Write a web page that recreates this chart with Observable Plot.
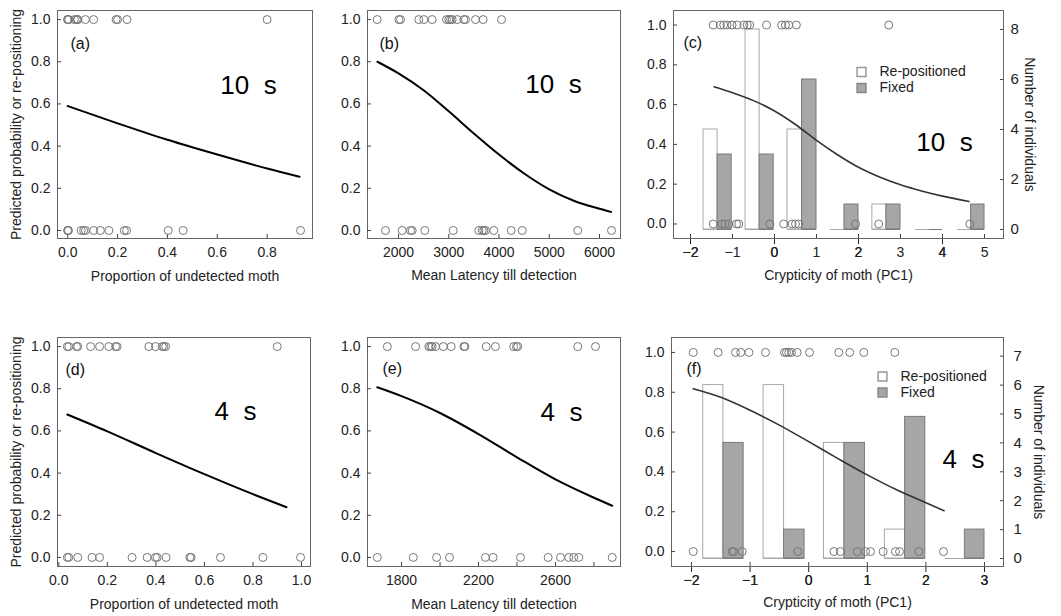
<!DOCTYPE html>
<html>
<head>
<meta charset="utf-8">
<script src="https://cdn.jsdelivr.net/npm/d3@7"></script>
<script src="https://cdn.jsdelivr.net/npm/@observablehq/plot@0.6"></script>
<style>
  body { margin: 0; background: #fff; }
  #chart { position: relative; width: 1061px; height: 616px; background: #fff; }
  #chart svg { position: absolute; left: 0; top: 0; }
  #chart svg text { white-space: pre; }
</style>
</head>
<body>
<div id="chart"></div>
<script>
// ---------------- DATA ----------------
// (a) 10 s : proportion of undetected moth
const aRepositioned = [0.0, 0.0, 0.004, 0.027, 0.035, 0.04, 0.04, 0.071, 0.104, 0.194, 0.2, 0.238, 0.80];
const aFixed        = [0.0, 0.0, 0.003, 0.054, 0.064, 0.071, 0.104, 0.131, 0.165, 0.227, 0.236, 0.403, 0.463, 0.934];
const aCurveX = [0, 0.2, 0.4, 0.6, 0.8, 0.93];
const aCurveP = [0.59, 0.508, 0.43, 0.36, 0.294, 0.255];
const aTicks  = [0, 0.2, 0.4, 0.6, 0.8];

// (b) 10 s : mean latency till detection
const bRepositioned = [1576, 2007, 2040, 2404, 2504, 2670, 2955, 3001, 3035, 3068, 3168, 3300, 3333, 3532, 3685, 4050];
const bFixed        = [1741, 2073, 2239, 2272, 2524, 3088, 3598, 3665, 3698, 3731, 3897, 4243, 4462, 5568, 6239];
const bCurveX = [1580, 2000, 2500, 3000, 3500, 4000, 4500, 5000, 5500, 6000, 6230];
const bCurveP = [0.80, 0.745, 0.665, 0.565, 0.46, 0.36, 0.27, 0.195, 0.14, 0.103, 0.088];
const bTicks  = [2000, 3000, 4000, 5000, 6000];

// (c) 10 s : crypticity of moth (PC1)
const cRepositioned = [-1.46, -1.29, -1.21, -1.13, -1.01, -0.89, -0.73, -0.65, -0.59, -0.19, 0.17, 0.26, 0.34, 0.52, 2.72];
const cFixed        = [-1.46, -1.25, -1.18, -1.09, -0.905, -0.85, -0.11, 0.22, 0.42, 0.5, 0.58, 1.93, 2.48, 4.65];
const cCurveX = [-1.44, -1, -0.5, 0, 0.5, 1, 1.5, 2, 2.5, 3, 3.5, 4, 4.63];
const cCurveP = [0.69, 0.66, 0.62, 0.568, 0.5, 0.42, 0.348, 0.285, 0.236, 0.197, 0.166, 0.14, 0.113];
const cBinLo  = [-1.69, -0.69, 0.31, 1.33, 2.33, 3.36, 4.36];
const cBinHi  = [-1.02, -0.02, 1.0, 2.0, 3.0, 4.0, 5.0];
const cCountRepositioned = [4, 8, 4, 0, 1, 0, 0];
const cCountFixed        = [3, 3, 6, 1, 1, 0, 1];
const cTicks      = [-2, -1, 0, 1, 2, 3, 4, 5];
const cCountTicks = [0, 2, 4, 6, 8];

// (d) 4 s : proportion of undetected moth
const dRepositioned = [0.035, 0.041, 0.073, 0.078, 0.131, 0.168, 0.206, 0.234, 0.24, 0.371, 0.398, 0.426, 0.433, 0.44, 0.90];
const dFixed        = [0.035, 0.041, 0.078, 0.137, 0.168, 0.302, 0.364, 0.398, 0.405, 0.442, 0.54, 0.545, 0.666, 0.841, 0.996];
const dCurveX = [0.035, 0.2, 0.4, 0.6, 0.8, 0.938];
const dCurveP = [0.678, 0.598, 0.495, 0.395, 0.30, 0.238];
const dTicks  = [0, 0.2, 0.4, 0.6, 0.8, 1.0];

// (e) 4 s : mean latency till detection
const eRepositioned = [1726, 1873, 1942, 1951, 1959, 1977, 2017, 2058, 2124, 2129, 2240, 2288, 2383, 2397, 2404, 2716, 2808];
const eFixed        = [1674, 1861, 1982, 2049, 2236, 2276, 2418, 2562, 2626, 2669, 2695, 2721, 2895];
const eCurveX = [1674, 1800, 2000, 2200, 2400, 2600, 2800, 2895];
const eCurveP = [0.807, 0.765, 0.685, 0.585, 0.475, 0.37, 0.283, 0.245];
const eTicks      = [1800, 2000, 2200, 2400, 2600, 2800];
const eTickLabels = [1800, 2200, 2600];

// (f) 4 s : crypticity of moth (PC1)
const fRepositioned = [-1.97, -1.545, -1.25, -1.16, -1.02, -0.737, -0.413, -0.379, -0.34, -0.293, -0.197, 0.014, 0.514, 0.70, 0.94, 1.47];
const fFixed        = [-1.97, -1.306, -1.28, -1.135, -0.186, 0.43, 0.54, 0.83, 0.97, 1.055, 1.27, 1.48, 1.55, 1.88, 2.3];
const fCurveX = [-1.97, -1.5, -1, -0.5, 0, 0.5, 1, 1.5, 2, 2.31];
const fCurveP = [0.818, 0.775, 0.71, 0.635, 0.552, 0.467, 0.385, 0.31, 0.245, 0.205];
const fBinLo  = [-1.80, -0.77, 0.26, 1.30, 2.33];
const fBinHi  = [-1.11, -0.07, 0.96, 1.99, 3.0];
const fCountRepositioned = [6, 6, 4, 1, 0];
const fCountFixed        = [4, 1, 4, 4.9, 1];
const fTicks      = [-2, -1, 0, 1, 2, 3];
const fCountTicks = [0, 1, 2, 3, 4, 5, 6, 7];

const probTicks = [0, 0.2, 0.4, 0.6, 0.8, 1.0];
const legendLabels = ["Re-positioned", "Fixed"];

// ---------------- RENDER ----------------
const W = 1061, H = 616;
const FONT = '"Liberation Sans", Arial, Helvetica, sans-serif';
const TXT = "#222";
const chart = document.getElementById("chart");

function makePlot(frame, xDomain, yDomain, marks) {
  const [l, r, t, b] = frame;
  const svg = Plot.plot({
    width: W, height: H,
    marginLeft: l, marginRight: W - r, marginTop: t, marginBottom: H - b,
    x: {domain: xDomain}, y: {domain: yDomain},
    style: {background: "transparent", fontFamily: FONT, fontSize: "14px", color: TXT, overflow: "visible"},
    marks
  });
  chart.appendChild(svg);
}

function probPanel(o) {
  const pts = o.rep.map(x => ({x, p: 1})).concat(o.fix.map(x => ({x, p: 0})));
  const curve = o.cx.map((x, i) => ({x, p: o.cp[i]}));
  const marks = [
    Plot.frame({stroke: "#666"}),
    Plot.axisX(o.xTicks, {tickSize: -4, tickFormat: () => "", stroke: "#444", label: null}),
    Plot.axisX(o.xLabels || o.xTicks, {tickSize: 0, tickPadding: 9, tickFormat: o.xFormat, fontSize: 14, fill: TXT, label: null}),
    Plot.axisY(probTicks, {tickSize: -4, tickPadding: 11, tickFormat: d3.format(".1f"), fontSize: 14, fill: TXT, stroke: "#444", label: null}),
    Plot.dot(pts, {x: "x", y: "p", r: 4, stroke: "#777", strokeWidth: 1, fill: "none"}),
    Plot.line(curve, {x: "x", y: "p", curve: "monotone-x", stroke: o.curveColor, strokeWidth: o.curveWidth}),
    Plot.text([o.xTitle], {frameAnchor: "bottom", dy: o.titleDy, textAnchor: "middle", lineAnchor: "bottom", fontSize: 14, fill: TXT}),
    Plot.text([o.tag], {frameAnchor: "top-left", dx: o.tagPos[0], dy: o.tagPos[1], textAnchor: "start", lineAnchor: "top", fontSize: 16, fill: "#111"}),
    Plot.text([o.big], {frameAnchor: "top-left", dx: o.bigPos[0], dy: o.bigPos[1], textAnchor: "middle", lineAnchor: "bottom", fontSize: 26, fill: "#000"})
  ];
  if (o.yTitle) {
    marks.push(Plot.text([o.yTitle], {frameAnchor: "left", dx: -41, rotate: -90, textAnchor: "middle", lineAnchor: "middle", fontSize: 14, fill: TXT}));
  }
  makePlot(o.frame, o.xDomain, o.yDomain, marks);
}

function barPanel(o) {
  const bins = o.lo.map((lo, i) => ({lo, hi: o.hi[i], mid: (lo + o.hi[i]) / 2, rep: o.rep[i], fix: o.fix[i]}));
  const WHITE_STROKE = "#a8a8a8", GRAY_FILL = "#a6a6a6", GRAY_STROKE = "#7a7a7a";
  const marks = [
    Plot.rect(bins, {x1: "lo", x2: "mid", y1: 0, y2: "rep", fill: "white", stroke: WHITE_STROKE}),
    Plot.rect(bins, {x1: "mid", x2: "hi", y1: 0, y2: "fix", fill: GRAY_FILL, stroke: GRAY_STROKE}),
    Plot.ruleY(bins, {x1: "lo", x2: "mid", y: 0, stroke: WHITE_STROKE}),
    Plot.ruleY(bins, {x1: "mid", x2: "hi", y: 0, stroke: GRAY_STROKE}),
    Plot.axisY(o.countTicks, {anchor: "right", tickSize: -4, tickPadding: o.countPad, fontSize: 15, fill: TXT, stroke: "#444", label: null}),
    Plot.text(["Number of individuals"], {frameAnchor: "right", dx: o.rightTitleDx, rotate: 90, textAnchor: "middle", lineAnchor: "middle", fontSize: 14, fill: TXT}),
    Plot.dot([legendLabels[0]], {frameAnchor: "top-left", dx: o.legend[0], dy: o.legend[1], symbol: "square", r: 5, fill: "white", stroke: "#999"}),
    Plot.dot([legendLabels[1]], {frameAnchor: "top-left", dx: o.legend[0], dy: o.legend[1] + 16, symbol: "square", r: 5, fill: GRAY_FILL, stroke: "#888"}),
    Plot.text([legendLabels[0]], {frameAnchor: "top-left", dx: o.legend[0] + 18, dy: o.legend[1], textAnchor: "start", lineAnchor: "middle", fontSize: 14, fill: TXT}),
    Plot.text([legendLabels[1]], {frameAnchor: "top-left", dx: o.legend[0] + 18, dy: o.legend[1] + 16, textAnchor: "start", lineAnchor: "middle", fontSize: 14, fill: TXT})
  ];
  makePlot(o.frame, o.xDomain, o.cDomain, marks);
}

const fmt1 = d3.format(".1f");
const fmtInt = d3.format("d");
const fmtMinus = d => d3.format("d")(d).replace("-", "\u2212");

// top row
probPanel({frame: [57, 312, 10, 238], xDomain: [-0.041, 0.982], yDomain: [-0.038, 1.043],
  rep: aRepositioned, fix: aFixed, cx: aCurveX, cp: aCurveP, xTicks: aTicks, xFormat: fmt1,
  curveColor: "#000", curveWidth: 2, xTitle: "Proportion of undetected moth", titleDy: 42,
  tag: "(a)", tagPos: [13, 27], big: "10  s", bigPos: [191, 83],
  yTitle: "Predicted probability or re-positioning"});

probPanel({frame: [367, 620, 10, 238], xDomain: [1383, 6418], yDomain: [-0.038, 1.043],
  rep: bRepositioned, fix: bFixed, cx: bCurveX, cp: bCurveP, xTicks: bTicks, xFormat: fmtInt,
  curveColor: "#000", curveWidth: 2, xTitle: "Mean Latency till detection", titleDy: 41,
  tag: "(b)", tagPos: [12, 27], big: "10  s", bigPos: [186, 82]});

barPanel({frame: [673, 1003, 10, 238], xDomain: [-2.405, 5.452], cDomain: [-0.36, 8.76],
  lo: cBinLo, hi: cBinHi, rep: cCountRepositioned, fix: cCountFixed, countTicks: cCountTicks,
  countPad: 11, rightTitleDx: 26, legend: [188, 61.5]});

probPanel({frame: [673, 1003, 10, 238], xDomain: [-2.405, 5.452], yDomain: [-0.073, 1.073],
  rep: cRepositioned, fix: cFixed, cx: cCurveX, cp: cCurveP, xTicks: cTicks, xFormat: fmtMinus,
  curveColor: "#333", curveWidth: 1.6, xTitle: "Crypticity of moth (PC1)", titleDy: 41,
  tag: "(c)", tagPos: [10, 26], big: "10  s", bigPos: [271, 140]});

// bottom row
probPanel({frame: [57, 310, 337, 566], xDomain: [-0.0054, 1.037], yDomain: [-0.043, 1.043],
  rep: dRepositioned, fix: dFixed, cx: dCurveX, cp: dCurveP, xTicks: dTicks, xFormat: fmt1,
  curveColor: "#000", curveWidth: 2, xTitle: "Proportion of undetected moth", titleDy: 42,
  tag: "(d)", tagPos: [8, 26], big: "4  s", bigPos: [178, 82],
  yTitle: "Predicted probability or re-positioning"});

probPanel({frame: [367, 620, 337, 566], xDomain: [1623, 2938], yDomain: [-0.043, 1.043],
  rep: eRepositioned, fix: eFixed, cx: eCurveX, cp: eCurveP, xTicks: eTicks, xLabels: eTickLabels, xFormat: fmtInt,
  curveColor: "#000", curveWidth: 2, xTitle: "Mean Latency till detection", titleDy: 42,
  tag: "(e)", tagPos: [15, 25], big: "4  s", bigPos: [194, 83]});

barPanel({frame: [671, 1003, 337, 566], xDomain: [-2.341, 3.324], cDomain: [-0.277, 7.647],
  lo: fBinLo, hi: fBinHi, rep: fCountRepositioned, fix: fCountFixed, countTicks: fCountTicks,
  countPad: 14, rightTitleDx: 35, legend: [211, 39]});

probPanel({frame: [671, 1003, 337, 566], xDomain: [-2.341, 3.324], yDomain: [-0.075, 1.075],
  rep: fRepositioned, fix: fFixed, cx: fCurveX, cp: fCurveP, xTicks: fTicks, xFormat: fmtMinus,
  curveColor: "#333", curveWidth: 1.6, xTitle: "Crypticity of moth (PC1)", titleDy: 40,
  tag: "(f)", tagPos: [15, 25], big: "4  s", bigPos: [292, 130]});
</script>
</body>
</html>
